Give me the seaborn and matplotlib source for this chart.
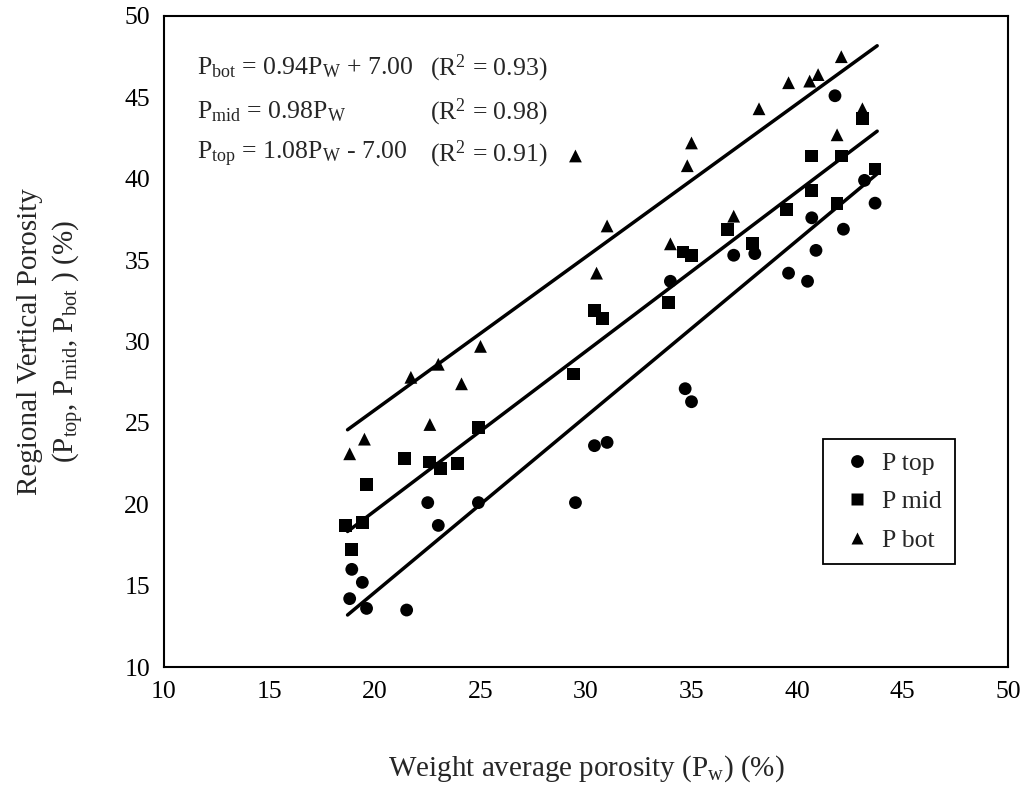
import matplotlib
matplotlib.use("Agg")
import matplotlib.pyplot as plt
import seaborn as sns
import pandas as pd
import numpy as np

# ---- data ----
top_x = [18.8, 18.9, 19.4, 19.6, 21.5, 22.5, 23.0, 24.9, 29.5, 30.4, 31.0, 34.0,
         34.7, 35.0, 37.0, 38.0, 39.6, 40.5, 40.7, 40.9, 41.8, 42.2, 43.2, 43.7]
top_y = [14.2, 16.0, 15.2, 13.6, 13.5, 20.1, 18.7, 20.1, 20.1, 23.6, 23.8, 33.7,
         27.1, 26.3, 35.3, 35.4, 34.2, 33.7, 37.6, 35.6, 45.1, 36.9, 39.9, 38.5]

mid_x = [18.6, 19.4, 18.9, 19.6, 21.4, 22.6, 23.1, 23.9, 24.9, 29.4, 30.4, 30.8,
         33.9, 34.6, 35.0, 36.7, 37.9, 39.5, 40.7, 41.9, 40.7, 42.1, 43.7, 43.1]
mid_y = [18.7, 18.9, 17.2, 21.2, 22.8, 22.6, 22.2, 22.5, 24.7, 28.0, 31.9, 31.4,
         32.4, 35.5, 35.3, 36.9, 36.0, 38.1, 39.3, 38.5, 41.4, 41.4, 40.6, 43.7]

bot_x = [18.8, 19.5, 21.7, 22.6, 23.0, 24.1, 25.0, 29.5, 30.5, 31.0, 34.0, 34.8,
         35.0, 37.0, 38.2, 39.6, 40.6, 41.0, 41.9, 42.1, 43.1]
bot_y = [23.1, 24.0, 27.8, 24.9, 28.6, 27.4, 29.7, 41.4, 34.2, 37.1, 36.0, 40.8,
         42.2, 37.7, 44.3, 45.9, 46.0, 46.4, 42.7, 47.5, 44.3]

series_names = ["P top", "P mid", "P bot"]
slopes = [1.08, 0.98, 0.94]
intercepts = [-7.00, 0.00, 7.00]
fit_range = [18.7, 43.8]

eq_texts = [r"P$_{\mathrm{bot}}$ = 0.94P$_{\mathrm{W}}$ + 7.00",
            r"P$_{\mathrm{mid}}$ = 0.98P$_{\mathrm{W}}$",
            r"P$_{\mathrm{top}}$ = 1.08P$_{\mathrm{W}}$ - 7.00"]
r2_texts = [r"(R$^{2}$ = 0.93)", r"(R$^{2}$ = 0.98)", r"(R$^{2}$ = 0.91)"]

x_ticks = [10, 15, 20, 25, 30, 35, 40, 45, 50]
y_ticks = [10, 15, 20, 25, 30, 35, 40, 45, 50]

# ---- styling ----
sns.set_style("white")
plt.rcParams["font.family"] = ["Liberation Serif", "DejaVu Serif"]
plt.rcParams["mathtext.fontset"] = "custom"
plt.rcParams["mathtext.rm"] = "Liberation Serif"
plt.rcParams["mathtext.it"] = "Liberation Serif:italic"
plt.rcParams["mathtext.bf"] = "Liberation Serif:bold"
FS = 18.5
FS_LAB = 21

df = pd.DataFrame({
    "x": top_x + mid_x + bot_x,
    "y": top_y + mid_y + bot_y,
    "series": ["P top"] * len(top_x) + ["P mid"] * len(mid_x) + ["P bot"] * len(bot_x),
})

fig = plt.figure(figsize=(10.35, 7.87), dpi=100)
ax = fig.add_axes([164 / 1035, 1 - 667 / 787, (1008 - 164) / 1035, (667 - 16) / 787])

# regression lines
xs = np.array(fit_range)
for s, b in zip(slopes, intercepts):
    ax.plot(xs, s * xs + b, color="black", lw=2.5, solid_capstyle="round", zorder=2)

sns.scatterplot(data=df, x="x", y="y", hue="series", style="series",
                hue_order=series_names, style_order=series_names,
                palette=["black"] * 3,
                markers={"P top": "o", "P mid": "s", "P bot": "^"},
                s=85, edgecolor="none", ax=ax, zorder=3)

ax.set_xlim(10, 50)
ax.set_ylim(10, 50)
ax.set_xticks(x_ticks)
ax.set_yticks(y_ticks)
ax.tick_params(axis="both", direction="out", length=7, width=1.2,
               labelsize=FS, colors="black", pad=3)
for sp in ax.spines.values():
    sp.set_visible(True)
    sp.set_color("black")
    sp.set_linewidth(1.5)

ax.set_xlabel(r"Weight average porosity (P$_{\mathrm{w}}$) (%)", fontsize=FS_LAB)
ax.xaxis.set_label_coords(0.5, -0.132)
ax.set_ylabel("Regional Vertical Porosity\n"
              r"(P$_{\mathrm{top}}$, P$_{\mathrm{mid}}$, P$_{\mathrm{bot}}$ ) (%)",
              fontsize=FS_LAB, linespacing=1.3)
ax.yaxis.set_label_coords(-0.093, 0.5)

# equations
eq_y = [46.8, 44.1, 41.5]
for t, r, yy in zip(eq_texts, r2_texts, eq_y):
    ax.text(11.55, yy, t, fontsize=FS, va="center", ha="left")
    ax.text(22.6, yy, r, fontsize=FS, va="center", ha="left")

leg = ax.legend(title=None, loc="upper left", bbox_to_anchor=(0.766, 0.37),
                fontsize=FS, frameon=True, fancybox=False, edgecolor="black",
                framealpha=1, borderpad=0.5, labelspacing=0.6,
                handletextpad=0.2, handlelength=1.6, markerscale=1.0)
leg.get_frame().set_linewidth(1.3)

fig.savefig("out.png", dpi=100, facecolor="white")
